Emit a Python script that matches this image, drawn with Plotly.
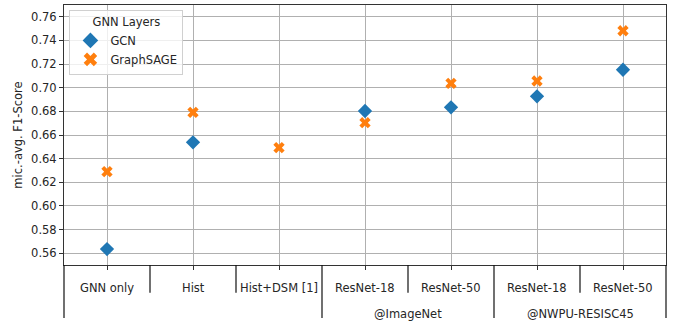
import plotly.graph_objects as go

categories = ["GNN only", "Hist", "Hist+DSM [1]", "ResNet-18", "ResNet-50", "ResNet-18", "ResNet-50"]
groups = ["", "", "", "@ImageNet", "@ImageNet", "@NWPU-RESISC45", "@NWPU-RESISC45"]
gcn = [0.5635, 0.6538, None, 0.6803, 0.6834, 0.6927, 0.7152]
graphsage = [0.629, 0.6792, 0.6493, 0.6704, 0.7037, 0.7057, 0.7482]
y_ticks = [0.56, 0.58, 0.60, 0.62, 0.64, 0.66, 0.68, 0.70, 0.72, 0.74, 0.76]

FONT = "DejaVu Sans"
TXT = "#262626"
FS = 11.5
n = len(categories)
xs = list(range(n))

fig = go.Figure()
fig.add_trace(go.Scatter(x=xs, y=gcn, mode="markers", name="GCN",
                         marker=dict(symbol="diamond", size=11, color="#1f77b4", line=dict(width=0))))
fig.add_trace(go.Scatter(x=xs, y=graphsage, mode="markers", name="GraphSAGE",
                         marker=dict(symbol="x", size=10, color="#ff7f0e", line=dict(width=0))))

plot_h = 325 - 5 - 60
annotations = []
for i, c in enumerate(categories):
    annotations.append(dict(x=i, y=0, xref="x", yref="paper", text=c, showarrow=False,
                            yanchor="middle", yshift=-22.5, font=dict(family=FONT, size=FS, color=TXT)))
seen = []
for g in groups:
    if g and g not in seen:
        seen.append(g)
for g in seen:
    idx = [i for i, gg in enumerate(groups) if gg == g]
    cx = (idx[0] + idx[-1]) / 2
    annotations.append(dict(x=cx, y=0, xref="x", yref="paper", text=g, showarrow=False,
                            yanchor="middle", yshift=-48.5, font=dict(family=FONT, size=FS, color=TXT)))

shapes = []
short_y = -27.7 / plot_h
long_y = -53 / plot_h
boundaries = [0, 3, 5, 7]
for b in range(n + 1):
    px = b / n
    y1 = long_y if b in boundaries else short_y
    shapes.append(dict(type="line", xref="paper", yref="paper", x0=px, x1=px, y0=0, y1=y1,
                       line=dict(color="#111111", width=1.2)))

fig.update_layout(
    width=681, height=325,
    margin=dict(l=64, r=15, t=5, b=60, autoexpand=False),
    paper_bgcolor="white", plot_bgcolor="white",
    font=dict(family=FONT, size=FS, color=TXT),
    showlegend=True,
    legend=dict(x=0.009, y=0.981, xanchor="left", yanchor="top",
                bgcolor="rgba(255,255,255,0.8)", bordercolor="#d0d0d0", borderwidth=1,
                title=dict(text="GNN Layers", side="top center", font=dict(size=FS)),
                font=dict(size=FS), itemsizing="constant", tracegroupgap=0),
    annotations=annotations,
    shapes=shapes,
)
fig.update_xaxes(range=[-0.5, n - 0.5], tickvals=xs, showticklabels=False,
                 ticks="outside", ticklen=4, tickcolor="#333333",
                 showgrid=True, gridcolor="#b0b0b0", gridwidth=1,
                 showline=True, linecolor="#333333", linewidth=1, mirror=True, zeroline=False)
fig.update_yaxes(range=[0.55, 0.77], tickvals=y_ticks, tickformat=".2f",
                 ticks="outside", ticklen=4, tickcolor="#333333",
                 showgrid=True, gridcolor="#b0b0b0", gridwidth=1,
                 showline=True, linecolor="#333333", linewidth=1, mirror=True, zeroline=False,
                 title=dict(text="mic.-avg. F1-Score", font=dict(size=FS), standoff=6),
                 tickfont=dict(size=FS))

fig.write_html("out.html", config={"displayModeBar": False},
               post_script="document.body.style.margin='0';document.body.style.padding='0';")
